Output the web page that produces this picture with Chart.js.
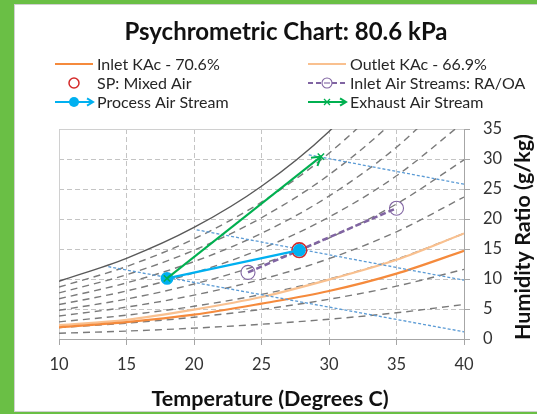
<!DOCTYPE html>
<html>
<head>
<meta charset="utf-8">
<script src="https://cdn.jsdelivr.net/npm/chart.js@4.4.1/dist/chart.umd.min.js"></script>
<style>
  html, body { margin: 0; padding: 0; background: #6abf45; }
  canvas { display: block; }
</style>
</head>
<body>
<canvas id="psychro" width="537" height="414"></canvas>
<script>
// ----------- DATA -----------

const temps = [10, 15, 20, 25, 30, 35, 40];

// saturation + relative humidity lines, humidity ratio in g/kg
const rh100 = [9.63, 13.45, 18.59, 25.46, 34.60, 46.70, 62.73];
const rh90 = [8.65, 12.08, 16.68, 22.82, 30.96, 41.71, 55.90];
const rh80 = [7.68, 10.71, 14.79, 20.21, 27.37, 36.81, 49.20];
const rh70 = [6.71, 9.35, 12.90, 17.61, 23.82, 31.97, 42.62];
const rh60 = [5.74, 8.00, 11.02, 15.03, 20.31, 27.20, 36.18];
const rh50 = [4.78, 6.65, 9.16, 12.48, 16.83, 22.50, 29.86];
const rh40 = [3.82, 5.31, 7.31, 9.94, 13.39, 17.87, 23.66];
const rh30 = [2.86, 3.97, 5.46, 7.43, 9.99, 13.31, 17.58];
const rh20 = [1.90, 2.64, 3.63, 4.93, 6.62, 8.81, 11.61];
const rh10 = [0.95, 1.32, 1.81, 2.46, 3.30, 4.37, 5.75];

const inletKAc = [1.95, 2.8, 4.05, 5.9, 8.0, 10.9, 14.7];
const outletKAc = [2.3, 3.2, 4.9, 7.0, 9.9, 13.2, 17.6];

// enthalpy guide lines (start, end)
const hHighT = [28.5, 40], hHighW = [30.7, 25.8];
const hMidT = [20.2, 40], hMidW = [18.2, 9.8];
const hLowT = [13.65, 40], hLowW = [12.05, 1.2];

// state points
const mixedT = [27.8], mixedW = [14.8];
const streamsT = [24, 35], streamsW = [11.1, 21.8];
const processT = [27.8, 18], processW = [14.8, 10.1];
const exhaustT = [18, 29.4], exhaustW = [10.1, 30.4];

const xTicks = [10, 15, 20, 25, 30, 35, 40];
const yTicks = [0, 5, 10, 15, 20, 25, 30, 35];

const chartTitle = "Psychrometric Chart: 80.6 kPa";
const xTitle = "Temperature (Degrees C)";
const yTitle = "Humidity Ratio (g/kg)";
const legendLabels = ["Inlet KAc - 70.6%", "Outlet KAc - 66.9%", "SP: Mixed Air",
  "Inlet Air Streams: RA/OA", "Process Air Stream", "Exhaust Air Stream"];
const legendKeys = ["inlet", "outlet", "mixed", "streams", "process", "exhaust"];

// ----------- COLOURS -----------
const C = {
  green: "#00b050", blue: "#00b0f0", red: "#d42a2a", purple: "#8064a2",
  orange: "#f58a3c", peach: "#f9c08f", hline: "#5b9bd5", sat: "#595959", rh: "#7a7a7a"
};
const FONT = "Lato, 'Open Sans', sans-serif";

const xy = (xs, ys) => xs.map((x, i) => ({ x: x, y: ys[i] }));

function curve(data, color, width, dash) {
  return {
    data: data, showLine: true, borderColor: color, borderWidth: width,
    borderDash: dash || [], pointRadius: 0, cubicInterpolationMode: "monotone", fill: false
  };
}

function chevron(ctx, x, y, ang, color, size, width) {
  ctx.save();
  ctx.strokeStyle = color;
  ctx.lineWidth = width;
  ctx.setLineDash([]);
  ctx.beginPath();
  ctx.moveTo(x - size * Math.cos(ang - 0.55), y - size * Math.sin(ang - 0.55));
  ctx.lineTo(x, y);
  ctx.lineTo(x - size * Math.cos(ang + 0.55), y - size * Math.sin(ang + 0.55));
  ctx.stroke();
  ctx.restore();
}

const rhLines = [rh90, rh80, rh70, rh60, rh50, rh40, rh30, rh20, rh10]
  .map(w => curve(xy(temps, w), C.rh, 1.4, [7, 5]));

const datasets = [
  {
    data: xy(exhaustT, exhaustW), showLine: true, borderColor: C.green, borderWidth: 2,
    pointStyle: "crossRot", pointRadius: 4.5, pointBorderWidth: 1.5,
    pointBorderColor: C.green, arrowHead: true
  },
  {
    data: xy(processT, processW), showLine: true, borderColor: C.blue, borderWidth: 2.2,
    pointStyle: "circle", pointRadius: 5.3, pointBackgroundColor: C.blue, pointBorderColor: C.blue
  },
  {
    data: xy(mixedT, mixedW), showLine: false, pointStyle: "circle", pointRadius: 7.3,
    pointBorderWidth: 1.6, pointBorderColor: C.red, pointBackgroundColor: "rgba(0,0,0,0)"
  },
  {
    data: xy(streamsT, streamsW), showLine: true, borderColor: C.purple, borderWidth: 2.5,
    borderDash: [6, 3], pointStyle: "circle", pointRadius: 7, pointBorderWidth: 1.1,
    pointBorderColor: C.purple, pointBackgroundColor: "rgba(0,0,0,0)"
  },
  curve(xy(hHighT, hHighW), C.hline, 1.3, [3, 2]),
  curve(xy(hMidT, hMidW), C.hline, 1.3, [3, 2]),
  curve(xy(hLowT, hLowW), C.hline, 1.3, [3, 2]),
  curve(xy(temps, inletKAc), C.orange, 2.2),
  curve(xy(temps, outletKAc), C.peach, 2.2),
  curve(xy(temps, rh100), C.sat, 1.4)
].concat(rhLines);

// ----------- PLUGINS -----------
const frame = {
  id: "frame",
  beforeDraw(chart) {
    const ctx = chart.ctx;
    ctx.save();
    ctx.fillStyle = "#6abf45";
    ctx.fillRect(0, 0, chart.width, chart.height);
    ctx.fillStyle = "#ffffff";
    ctx.fillRect(14, 4, chart.width - 14, chart.height - 6);
    ctx.strokeStyle = "#d0d0d0";
    ctx.lineWidth = 1;
    ctx.strokeRect(14.5, 4.5, chart.width, chart.height - 7);
    ctx.restore();
  },
  beforeDatasetsDraw(chart) {
    const { ctx, chartArea: a } = chart;
    ctx.save();
    ctx.strokeStyle = "#d0d0d0";
    ctx.lineWidth = 1;
    ctx.beginPath();
    ctx.moveTo(a.left + 0.5, a.bottom);
    ctx.lineTo(a.left + 0.5, a.top + 0.5);
    ctx.lineTo(a.right, a.top + 0.5);
    ctx.stroke();
    ctx.restore();
  },
  afterDatasetDraw(chart, args) {
    const ds = chart.data.datasets[args.index];
    if (!ds.arrowHead) return;
    const pts = args.meta.data;
    const p0 = pts[pts.length - 2], p1 = pts[pts.length - 1];
    const ang = Math.atan2(p1.y - p0.y, p1.x - p0.x);
    chevron(chart.ctx, p1.x, p1.y, ang, ds.borderColor, 10, 2);
  },
  afterDraw(chart) {
    const ctx = chart.ctx;
    ctx.save();
    ctx.fillStyle = "#111111";
    ctx.textAlign = "center";
    ctx.textBaseline = "middle";
    ctx.font = "bold 24px " + FONT;
    ctx.fillText(chartTitle, 286, 32);
    ctx.font = "bold 21.5px " + FONT;
    ctx.fillText(xTitle, 270, 399);
    ctx.save();
    ctx.translate(523, 237);
    ctx.rotate(-Math.PI / 2);
    ctx.fillText(yTitle, 0, 0);
    ctx.restore();

    // legend, two columns
    const cols = [55, 308], rows = [64, 83, 102], w = 38;
    ctx.font = "16px " + FONT;
    ctx.textAlign = "left";
    ctx.fillStyle = "#262626";
    legendKeys.forEach((key, i) => {
      const x0 = cols[i % 2], y = rows[Math.floor(i / 2)], xm = x0 + w / 2, x1 = x0 + w;
      ctx.save();
      ctx.lineWidth = 2;
      if (key === "inlet" || key === "outlet") {
        ctx.strokeStyle = key === "inlet" ? C.orange : C.peach;
        ctx.beginPath(); ctx.moveTo(x0, y); ctx.lineTo(x1, y); ctx.stroke();
      } else if (key === "mixed") {
        ctx.strokeStyle = C.red; ctx.lineWidth = 1.5;
        ctx.beginPath(); ctx.arc(xm, y, 5, 0, Math.PI * 2); ctx.stroke();
      } else if (key === "streams") {
        ctx.strokeStyle = C.purple; ctx.setLineDash([5, 3]);
        ctx.beginPath(); ctx.moveTo(x0, y); ctx.lineTo(x1, y); ctx.stroke();
        ctx.setLineDash([]); ctx.lineWidth = 1.1; ctx.fillStyle = "#ffffff";
        ctx.beginPath(); ctx.arc(xm, y, 5, 0, Math.PI * 2); ctx.fill(); ctx.stroke();
        ctx.beginPath(); ctx.moveTo(xm - 3, y); ctx.lineTo(xm + 3, y); ctx.stroke();
      } else if (key === "process") {
        ctx.strokeStyle = C.blue; ctx.fillStyle = C.blue;
        ctx.beginPath(); ctx.moveTo(x0, y); ctx.lineTo(x1 - 1, y); ctx.stroke();
        ctx.beginPath(); ctx.arc(xm, y, 5, 0, Math.PI * 2); ctx.fill();
        chevron(ctx, x1, y, 0, C.blue, 7, 2);
      } else if (key === "exhaust") {
        ctx.strokeStyle = C.green;
        ctx.beginPath(); ctx.moveTo(x0, y); ctx.lineTo(x1 - 1, y); ctx.stroke();
        ctx.lineWidth = 1.3;
        ctx.beginPath();
        ctx.moveTo(xm - 3, y - 3); ctx.lineTo(xm + 3, y + 3);
        ctx.moveTo(xm - 3, y + 3); ctx.lineTo(xm + 3, y - 3);
        ctx.stroke();
        chevron(ctx, x1, y, 0, C.green, 7, 2);
      }
      ctx.restore();
      ctx.fillText(legendLabels[i], x1 + 4, y + 1);
    });
    ctx.restore();
  }
};

// ----------- CHART -----------
new Chart(document.getElementById("psychro"), {
  type: "scatter",
  data: { datasets: datasets },
  options: {
    responsive: false,
    animation: false,
    events: [],
    layout: { padding: { left: 59, top: 129, right: 0, bottom: 0 } },
    plugins: { legend: { display: false }, title: { display: false }, tooltip: { enabled: false } },
    scales: {
      x: {
        type: "linear", min: 10, max: 40,
        afterFit: s => { s.height = 75; },
        afterBuildTicks: s => { s.ticks = xTicks.map(v => ({ value: v })); },
        ticks: { color: "#333333", font: { family: FONT, size: 16.5 }, padding: 10 },
        grid: { color: "#c4c4c4", lineWidth: 1, tickColor: "#a6a6a6", tickLength: 6 },
        border: { color: "#a6a6a6", width: 1, dash: [5, 3] }
      },
      y: {
        type: "linear", position: "right", min: 0, max: 35,
        afterFit: s => { s.width = 73; },
        afterBuildTicks: s => { s.ticks = yTicks.map(v => ({ value: v })); },
        ticks: { color: "#333333", font: { family: FONT, size: 16.5 }, padding: 13 },
        grid: { color: "#c4c4c4", lineWidth: 1, tickColor: "#a6a6a6", tickLength: 6 },
        border: { color: "#a6a6a6", width: 1, dash: [5, 3] }
      }
    }
  },
  plugins: [frame]
});
</script>
</body>
</html>
